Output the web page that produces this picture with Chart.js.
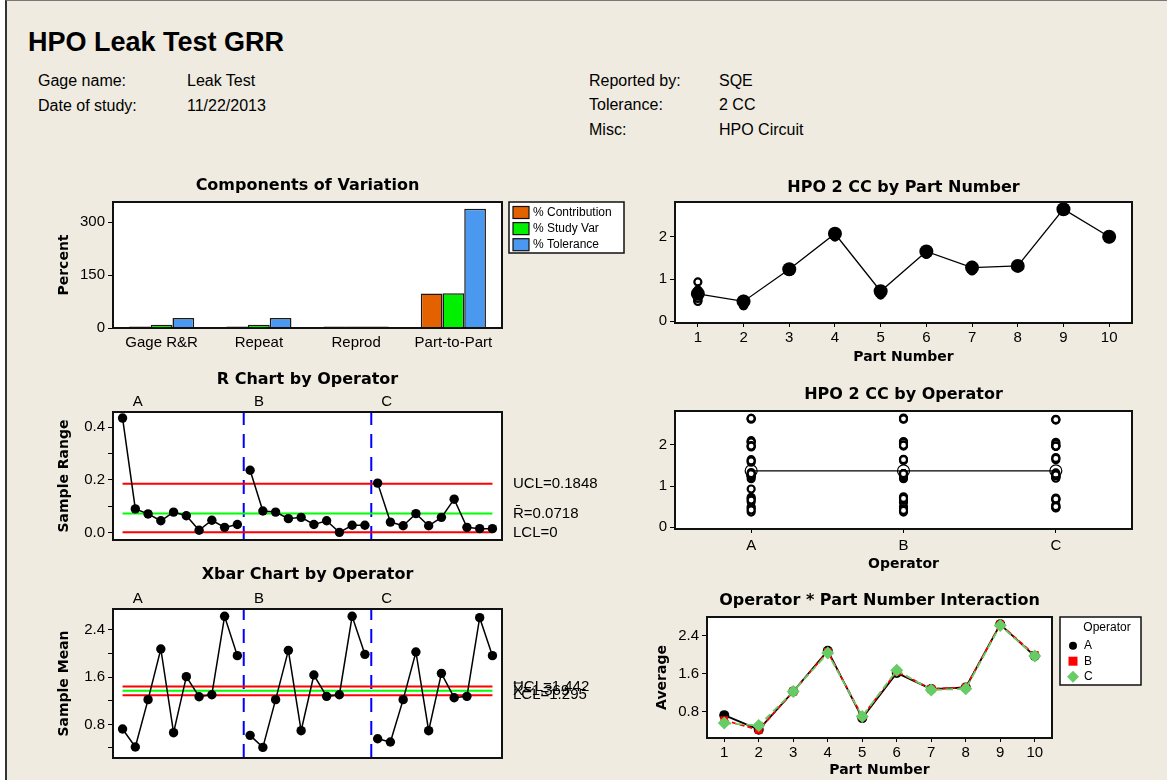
<!DOCTYPE html>
<html>
<head>
<meta charset="utf-8">
<title>HPO Leak Test GRR</title>
<script src="https://cdn.jsdelivr.net/npm/chart.js@4.4.1/dist/chart.umd.min.js"></script>
<style>
    html, body { margin: 0; padding: 0; background: #fff; }
    #page {
        position: absolute; left: 5px; top: 0; width: 1162px; height: 780px;
        background: #efebe0; border-left: 2px solid #333; border-top: 1px solid #777;
        box-sizing: border-box;
    }
    .txt {
        position: absolute; font-family: "Liberation Sans", Arial, sans-serif;
        font-size: 16px; line-height: 20px; color: #000; white-space: nowrap;
    }
    .big { font-size: 27px; line-height: 32px; font-weight: bold; }
    canvas { position: absolute; }
</style>
</head>
<body>
<div id="page"></div>
<div class="txt big" style="left:28px; top:26px">HPO Leak Test GRR</div>
<div class="txt" style="left:38px; top:71px">Gage name:</div>
<div class="txt" style="left:187px; top:71px">Leak Test</div>
<div class="txt" style="left:38px; top:96px">Date of study:</div>
<div class="txt" style="left:187px; top:96px">11/22/2013</div>
<div class="txt" style="left:589px; top:71px">Reported by:</div>
<div class="txt" style="left:719px; top:71px">SQE</div>
<div class="txt" style="left:589px; top:95px">Tolerance:</div>
<div class="txt" style="left:719px; top:95px">2 CC</div>
<div class="txt" style="left:589px; top:120px">Misc:</div>
<div class="txt" style="left:719px; top:120px">HPO Circuit</div>

<script>
const operators = ['A', 'B', 'C']
const partNumbers = [1, 2, 3, 4, 5, 6, 7, 8, 9, 10]

// components of variation, in percent
const components = ['Gage R&R', 'Repeat', 'Reprod', 'Part-to-Part']
const pctContribution = [0.8, 0.8, 0, 97.5]
const pctStudyVar = [9.3, 9.3, 0, 98.5]
const pctTolerance = [28.5, 28.5, 0, 338]

// sample range per part, one array per operator
const rangeA = [0.434, 0.089, 0.070, 0.044, 0.077, 0.063, 0.008, 0.046, 0.019, 0.030]
const rangeB = [0.236, 0.081, 0.077, 0.052, 0.057, 0.030, 0.044, 0.000, 0.027, 0.027]
const rangeC = [0.187, 0.039, 0.025, 0.071, 0.025, 0.057, 0.126, 0.019, 0.014, 0.014]

// sample mean per part, one array per operator
const meanA = [0.721, 0.416, 1.219, 2.078, 0.659, 1.609, 1.269, 1.303, 2.632, 1.965]
const meanB = [0.614, 0.410, 1.219, 2.055, 0.693, 1.637, 1.275, 1.303, 2.632, 1.987]
const meanC = [0.557, 0.501, 1.219, 2.027, 0.693, 1.665, 1.252, 1.275, 2.609, 1.965]

const rUCL = 0.1848
const rBar = 0.0718
const rLCL = 0
const xUCL = 1.442
const xBarBar = 1.369
const xLCL = 1.295

// single readings, 3 trials for each part
const trialsA = [[0.50, 0.93, 0.73], [0.37, 0.46, 0.42], [1.18, 1.25, 1.23], [2.06, 2.10, 2.07], [0.62, 0.70, 0.66],
    [1.58, 1.64, 1.61], [1.27, 1.26, 1.27], [1.28, 1.33, 1.30], [2.62, 2.64, 2.64], [1.95, 1.98, 1.97]]
const trialsB = [[0.50, 0.74, 0.60], [0.37, 0.45, 0.41], [1.18, 1.26, 1.22], [2.03, 2.08, 2.06], [0.66, 0.72, 0.70],
    [1.62, 1.65, 1.64], [1.25, 1.30, 1.28], [1.30, 1.30, 1.30], [2.62, 2.65, 2.63], [1.97, 2.00, 1.99]]
const trialsC = [[0.47, 0.66, 0.54], [0.48, 0.52, 0.50], [1.21, 1.23, 1.22], [1.99, 2.06, 2.03], [0.68, 0.71, 0.69],
    [1.64, 1.69, 1.67], [1.19, 1.32, 1.25], [1.27, 1.29, 1.27], [2.60, 2.62, 2.61], [1.96, 1.97, 1.97]]

const partMeans = [0.65, 0.47, 1.23, 2.07, 0.71, 1.65, 1.27, 1.31, 2.65, 2.00]
const operatorMeans = [1.37, 1.37, 1.37]

// tick values and labels
const pctTicks = [0, 150, 300]
const pctTickLabels = ['0', '150', '300']
const rTicks = [0, 0.1, 0.2, 0.3, 0.4]
const rTickLabels = ['0.0', '', '0.2', '', '0.4']
const xbarTicks = [0.4, 0.8, 1.2, 1.6, 2.0, 2.4]
const xbarTickLabels = ['', '0.8', '', '1.6', '', '2.4']
const hpoTicks = [0, 1, 2]
const hpoTickLabels = ['0', '1', '2']
const avgTicks = [0.8, 1.6, 2.4]
const avgTickLabels = ['0.8', '1.6', '2.4']

const SANS = '"Liberation Sans", Arial, sans-serif'
const BOLD = '"DejaVu Sans", Verdana, sans-serif'

function makeCanvas(box, m) {
    let c = document.createElement('canvas')
    let w = box[2] - box[0] + m[0] + m[2]
    let h = box[3] - box[1] + m[1] + m[3]
    c.width = w
    c.height = h
    c.style.left = (box[0] - m[0]) + 'px'
    c.style.top = (box[1] - m[1]) + 'px'
    c.style.width = w + 'px'
    c.style.height = h + 'px'
    document.body.appendChild(c)
    return c
}

function yAxis(min, max, ticks, labels, width) {
    return {
        type: 'linear', min: min, max: max,
        afterFit: s => { s.width = width },
        afterBuildTicks: s => { s.ticks = ticks.map(v => ({ value: v })) },
        ticks: { color: '#000', font: { family: SANS, size: 15 }, padding: 3, autoSkip: false,
            callback: (v, i) => labels[i] },
        grid: { drawOnChartArea: false, color: '#000', tickLength: 5 },
        border: { display: false }
    }
}

function xLinear(min, max, ticks, height) {
    return {
        type: 'linear', min: min, max: max,
        afterFit: s => { s.height = height },
        afterBuildTicks: s => { s.ticks = ticks.map(v => ({ value: v })) },
        ticks: { color: '#000', font: { family: SANS, size: 15 }, padding: 2, autoSkip: false, maxRotation: 0 },
        grid: { drawOnChartArea: false, color: '#000', tickLength: 4 },
        border: { display: false }
    }
}

function drawMarker(ctx, style, r, x, y) {
    ctx.beginPath()
    if (style === 'rect') {
        ctx.rect(x - r * 0.75, y - r * 0.75, r * 1.5, r * 1.5)
    } else if (style === 'rectRot') {
        ctx.moveTo(x - r, y); ctx.lineTo(x, y - r); ctx.lineTo(x + r, y); ctx.lineTo(x, y + r); ctx.closePath()
    } else {
        ctx.arc(x, y, r, 0, Math.PI * 2)
    }
    ctx.fill()
}

function drawLegend(chart, lg) {
    let ctx = chart.ctx
    let a = chart.chartArea
    let x = a.right + lg.gap
    let y = a.top
    ctx.fillStyle = '#fff'
    ctx.fillRect(x, y, lg.w, lg.h)
    ctx.strokeStyle = '#111'
    ctx.lineWidth = 1.5
    ctx.strokeRect(x, y, lg.w, lg.h)
    ctx.font = '12px ' + SANS
    ctx.textBaseline = 'middle'
    if (lg.title) {
        ctx.textAlign = 'center'
        ctx.fillStyle = '#000'
        ctx.fillText(lg.title, x + lg.titleX, y + lg.titleY)
    }
    ctx.textAlign = 'left'
    chart.data.datasets.filter(d => d.label).forEach((d, i) => {
        let ry = y + lg.rowY + i * lg.rowH
        if (lg.swatch) {
            ctx.fillStyle = d.backgroundColor
            ctx.fillRect(x + 4, ry - 6, 16, 12)
            ctx.lineWidth = 1.2
            ctx.strokeStyle = '#111'
            ctx.strokeRect(x + 4, ry - 6, 16, 12)
        } else {
            ctx.fillStyle = d.pointBackgroundColor
            drawMarker(ctx, d.pointStyle, d.legendRadius, x + lg.markX, ry)
        }
        ctx.fillStyle = '#000'
        ctx.fillText(d.label, x + lg.textX, ry)
    })
}

// white plot area, frame, titles and extra labels
function makePanel(cfg) {
    return {
        id: 'panel',
        beforeDraw(chart) {
            let a = chart.chartArea
            chart.ctx.save()
            chart.ctx.fillStyle = '#ffffff'
            chart.ctx.fillRect(a.left, a.top, a.width, a.height)
            chart.ctx.restore()
        },
        afterDraw(chart) {
            let ctx = chart.ctx
            let a = chart.chartArea
            let midX = (a.left + a.right) / 2
            ctx.save()
            ctx.strokeStyle = '#111'
            ctx.lineWidth = 2
            ctx.strokeRect(a.left, a.top, a.width, a.height)
            ctx.fillStyle = '#000'
            ctx.textAlign = 'center'
            ctx.textBaseline = 'middle'
            ctx.font = 'bold 16px ' + BOLD
            ctx.fillText(cfg.title, midX, a.top - cfg.titleGap)
            ctx.font = 'bold 14px ' + BOLD
            if (cfg.xLabel) ctx.fillText(cfg.xLabel, midX, a.bottom + cfg.xLabelGap)
            if (cfg.yLabel) {
                ctx.save()
                ctx.translate(a.left - cfg.yLabelGap, (a.top + a.bottom) / 2)
                ctx.rotate(-Math.PI / 2)
                ctx.fillText(cfg.yLabel, 0, 0)
                ctx.restore()
            }
            ctx.font = '15px ' + SANS
            if (cfg.segLabels) {
                cfg.segLabels.forEach((t, i) => ctx.fillText(t, chart.scales.x.getPixelForValue(cfg.segAt[i]), a.top - 10))
            }
            if (cfg.limits) {
                ctx.textAlign = 'left'
                cfg.limits.forEach(l => ctx.fillText(l.text, a.right + 11, chart.scales.y.getPixelForValue(l.value)))
            }
            if (cfg.legend) drawLegend(chart, cfg.legend)
            ctx.restore()
        }
    }
}

function newChart(box, m, type, data, scales, cfg) {
    let canvas = makeCanvas(box, m)
    return new Chart(canvas, {
        type: type,
        data: data,
        options: {
            responsive: false, animation: false, devicePixelRatio: 1,
            layout: { padding: { left: 0, top: m[1], right: m[2], bottom: scales.x.display === false ? m[3] : 0 } },
            scales: scales,
            plugins: { legend: { display: false }, tooltip: { enabled: false } }
        },
        plugins: [makePanel(cfg)]
    })
}

// control chart datasets: one line per operator, limit lines, operator dividers
function controlSets(series, ucl, center, lcl, yMin, yMax) {
    let n = series[0].length
    let sets = series.map((vals, k) => ({
        data: vals.map((v, i) => ({ x: k * n + i + 1, y: v })),
        borderColor: '#000', backgroundColor: '#000', borderWidth: 1.5,
        pointRadius: 4.7, pointBorderWidth: 0, order: 0
    }))
    let total = series.length * n
    let hline = (v, color) => ({ data: [{ x: 1, y: v }, { x: total, y: v }], borderColor: color,
        borderWidth: 2, pointRadius: 0, order: 1 })
    sets.push(hline(ucl, '#ff0000'), hline(center, '#00ff00'), hline(lcl, '#ff0000'))
    for (let k = 1; k < series.length; k++) {
        let xd = k * n + 0.5
        sets.push({ data: [{ x: xd, y: yMin }, { x: xd, y: yMax }], borderColor: '#0000ff', borderWidth: 2,
            borderDash: [14, 9], pointRadius: 0, order: 2 })
    }
    return sets
}

// Components of Variation
newChart([113, 202, 502, 328], [83, 37, 138, 32], 'bar', {
    labels: components,
    datasets: [
        { label: '% Contribution', data: pctContribution, backgroundColor: '#e46100' },
        { label: '% Study Var', data: pctStudyVar, backgroundColor: '#00f000' },
        { label: '% Tolerance', data: pctTolerance, backgroundColor: '#4a98f0' }
    ].map(d => Object.assign(d, { borderColor: '#1a1a1a', borderWidth: 1.5, categoryPercentage: 0.67,
        barPercentage: 1, minBarLength: 1.5 }))
}, {
    x: { type: 'category', afterFit: s => { s.height = 32 }, grid: { display: false, drawTicks: false },
        ticks: { color: '#000', font: { family: SANS, size: 15 }, padding: 6 }, border: { display: false } },
    y: yAxis(0, 357, pctTicks, pctTickLabels, 83)
}, {
    title: 'Components of Variation', titleGap: 16, yLabel: 'Percent', yLabelGap: 49,
    legend: { gap: 7, w: 115, h: 51, rowY: 10.5, rowH: 16.1, swatch: true, textX: 24 }
})

// HPO 2 CC by Part Number
let byPartPoints = []
;[trialsA, trialsB, trialsC].forEach(tr => tr.forEach((vals, p) => vals.forEach(v => byPartPoints.push({ x: partNumbers[p], y: v }))))
newChart([675, 202, 1132, 323], [35, 32, 28, 49], 'line', {
    datasets: [
        { data: partNumbers.map((p, i) => ({ x: p, y: partMeans[i] })), borderColor: '#000', backgroundColor: '#000',
            borderWidth: 1.3, pointRadius: 7, pointBorderWidth: 0, order: 0 },
        { data: byPartPoints, showLine: false, pointRadius: 3.5, pointBorderWidth: 2.2,
            pointBorderColor: '#000', pointBackgroundColor: '#fff', order: 1 }
    ]
}, {
    x: xLinear(0.5, 10.5, partNumbers, 49),
    y: yAxis(-0.04, 2.82, hpoTicks, hpoTickLabels, 35)
}, { title: 'HPO 2 CC by Part Number', titleGap: 14, xLabel: 'Part Number', xLabelGap: 34 })

// R Chart by Operator
newChart([113, 412, 502, 540], [83, 46, 138, 16], 'line', {
    datasets: controlSets([rangeA, rangeB, rangeC], rUCL, rBar, rLCL, -0.029, 0.457)
}, {
    x: { type: 'linear', min: 0.25, max: 30.75, display: false },
    y: yAxis(-0.029, 0.457, rTicks, rTickLabels, 83)
}, {
    title: 'R Chart by Operator', titleGap: 32, yLabel: 'Sample Range', yLabelGap: 49,
    segLabels: operators, segAt: [2.2, 11.7, 21.7],
    limits: [{ text: 'UCL=' + rUCL, value: rUCL }, { text: 'R\u0304=' + rBar, value: rBar }, { text: 'LCL=' + rLCL, value: rLCL }]
})

// HPO 2 CC by Operator
let byOpPoints = []
;[trialsA, trialsB, trialsC].forEach((tr, k) => tr.flat().forEach(v => byOpPoints.push({ x: operators[k], y: v })))
newChart([675, 411, 1132, 529], [35, 33, 28, 46], 'line', {
    labels: operators,
    datasets: [
        { data: operatorMeans, borderColor: '#000', borderWidth: 1.3, pointRadius: 6, pointBorderWidth: 1.2,
            pointBorderColor: '#000', pointBackgroundColor: 'rgba(255,255,255,0)', order: 0 },
        { data: byOpPoints, showLine: false, pointRadius: 3.5, pointBorderWidth: 2.2,
            pointBorderColor: '#000', pointBackgroundColor: '#fff', order: 1 }
    ]
}, {
    x: { type: 'category', offset: true, afterFit: s => { s.height = 46 },
        ticks: { color: '#000', font: { family: SANS, size: 15 }, padding: 4 },
        grid: { drawOnChartArea: false, offset: false, color: '#000', tickLength: 4 }, border: { display: false } },
    y: yAxis(-0.04, 2.82, hpoTicks, hpoTickLabels, 35)
}, { title: 'HPO 2 CC by Operator', titleGap: 16, xLabel: 'Operator', xLabelGap: 35 })

// Xbar Chart by Operator
newChart([113, 609, 502, 758], [83, 52, 138, 22], 'line', {
    datasets: controlSets([meanA, meanB, meanC], xUCL, xBarBar, xLCL, 0.23, 2.756)
}, {
    x: { type: 'linear', min: 0.25, max: 30.75, display: false },
    y: yAxis(0.23, 2.756, xbarTicks, xbarTickLabels, 83)
}, {
    title: 'Xbar Chart by Operator', titleGap: 34, yLabel: 'Sample Mean', yLabelGap: 49,
    segLabels: operators, segAt: [2.2, 11.7, 21.7],
    limits: [{ text: 'UCL=' + xUCL, value: xUCL }, { text: 'X\u033F=' + xBarBar, value: xBarBar }, { text: 'LCL=' + xLCL, value: xLCL }]
})

// Operator * Part Number Interaction
let interaction = [
    { label: 'A', data: meanA, color: '#000000', pointStyle: 'circle', r: 5, dash: [], legendRadius: 4 },
    { label: 'B', data: meanB, color: '#ff0000', pointStyle: 'rect', r: 5.5, dash: [5, 3], legendRadius: 6 },
    { label: 'C', data: meanC, color: '#66cc66', pointStyle: 'rectRot', r: 6.5, dash: [7, 4], legendRadius: 6 }
]
newChart([707, 617, 1052, 738], [67, 33, 108, 42], 'line', {
    datasets: interaction.map((s, k) => ({
        label: s.label, data: s.data.map((v, i) => ({ x: partNumbers[i], y: v })),
        borderColor: s.color, backgroundColor: s.color, pointBackgroundColor: s.color, pointBorderColor: s.color,
        pointStyle: s.pointStyle, pointRadius: s.r, pointBorderWidth: 0, borderWidth: 1.8, borderDash: s.dash,
        legendRadius: s.legendRadius, order: 2 - k
    }))
}, {
    x: xLinear(0.5, 10.5, partNumbers, 42),
    y: yAxis(0.24, 2.787, avgTicks, avgTickLabels, 67)
}, {
    title: 'Operator * Part Number Interaction', titleGap: 16, yLabel: 'Average', yLabelGap: 45,
    xLabel: 'Part Number', xLabelGap: 32,
    legend: { gap: 8, w: 81, h: 68, title: 'Operator', titleX: 47, titleY: 11, rowY: 28.7, rowH: 15.5, markX: 13, textX: 24 }
})
</script>
</body>
</html>
